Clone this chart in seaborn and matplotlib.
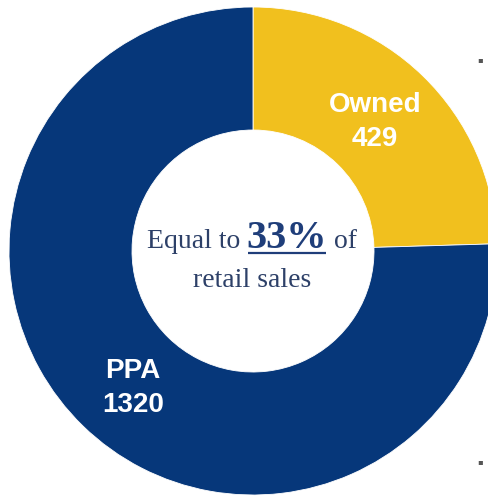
import matplotlib
matplotlib.use("Agg")
import matplotlib.pyplot as plt
import seaborn as sns

categories = ["Owned", "PPA"]
values = [429, 1320]
value_labels = ["429", "1320"]
center_line1 = ["Equal to ", "33%", " of"]
center_line2 = "retail sales"

sns.set_theme(style="white")
palette = sns.color_palette(["#F1C01E", "#06377A"])

W, H = 488, 497
fig = plt.figure(figsize=(W / 100, H / 100), dpi=100)
fig.patch.set_facecolor("white")
ax = fig.add_axes([0, 0, 1, 1])
ax.set_facecolor("white")

cx, cy = 253, H - 251
R = 244
r_in = 121
wedges, _ = ax.pie(values, colors=palette, startangle=90, counterclock=False,
                   radius=R, center=(cx, cy),
                   wedgeprops=dict(width=R - r_in, edgecolor="white", linewidth=0.6))
ax.set_xlim(0, W)
ax.set_ylim(0, H)
ax.set_aspect("equal")
ax.axis("off")

# Segment labels
lab_pos = [(375, 122), (133, 388)]
for (x, y), name, val in zip(lab_pos, categories, value_labels):
    ax.text(x, H - y, f"{name}\n{val}", ha="center", va="center", color="white",
            fontsize=20, fontweight="bold", family="Liberation Sans", linespacing=1.35)

# Center text
navy = "#2D4068"
fig.canvas.draw()
renderer = fig.canvas.get_renderer()
base_y = H - 248
sizes = [20, 29, 20]
weights = ["normal", "bold", "normal"]
texts = []
for s, fs, fw in zip(center_line1, sizes, weights):
    t = ax.text(0, base_y, s, ha="left", va="baseline", fontsize=fs, fontweight=fw,
                family="Liberation Serif", color=navy if fw == "normal" else "#1F3E7A")
    texts.append(t)
widths = [t.get_window_extent(renderer).width for t in texts]
total = sum(widths)
x = 252 - total / 2
for t, w in zip(texts, widths):
    t.set_x(x)
    x += w
# underline for the percentage
bb = texts[1].get_window_extent(renderer)
ax.plot([bb.x0 + 1, bb.x1 - 1], [base_y - 5, base_y - 5], color="#1F3E7A", lw=1.6,
        solid_capstyle="butt")

ax.text(252, H - 287, center_line2, ha="center", va="baseline", fontsize=20,
        family="Liberation Serif", color=navy)

# slide bullet remnants
for yy in (60, 462):
    fig.text(480 / W, 1 - yy / H, "\u25aa", ha="center", va="center", fontsize=6,
             color="#555555", family="DejaVu Sans")

fig.savefig("out.png", dpi=100, facecolor="white")
